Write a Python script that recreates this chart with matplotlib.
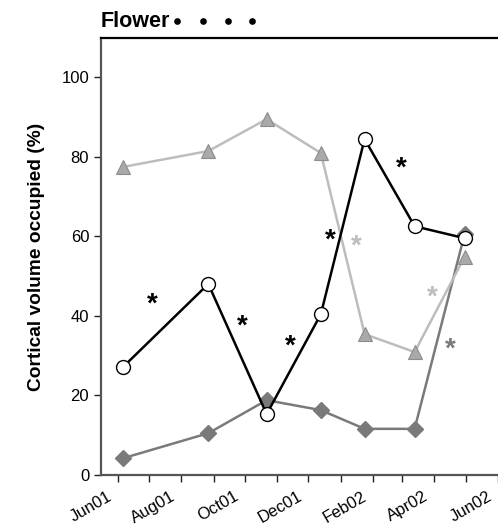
import datetime as dt
import matplotlib
matplotlib.use("Agg")
import matplotlib.pyplot as plt
import matplotlib.dates as mdates
import matplotlib.transforms as mtransforms

plt.rcParams['font.family'] = ['Liberation Sans', 'DejaVu Sans']

# Sampling dates
sample_dates = ["2001-06-06", "2001-08-27", "2001-10-22", "2001-12-13",
                "2002-01-24", "2002-03-13", "2002-04-30"]

# Cortical volume occupied (%) per series
circle_vals = [27.1, 48.0, 15.3, 40.4, 84.4, 62.5, 59.5]
triangle_vals = [77.4, 81.4, 89.4, 80.9, 35.4, 30.9, 54.8]
diamond_vals = [4.2, 10.5, 18.8, 16.3, 11.6, 11.6, 60.5]

# Significance markers: (date, value, colour-group)
star_dates = ["2001-07-04", "2001-09-29", "2001-11-14", "2001-12-22",
              "2002-02-28", "2002-01-16", "2002-03-30", "2002-04-16"]
star_vals = [42.7, 37.2, 32.2, 59.0, 76.9, 57.5, 44.5, 31.4]
star_groups = ["circle", "circle", "circle", "circle", "circle",
               "triangle", "triangle", "diamond"]

# Flowering period markers
flower_dates = ["2001-07-28", "2001-08-22", "2001-09-15", "2001-10-08"]

tick_labels = ["Jun01", "Aug01", "Oct01", "Dec01", "Feb02", "Apr02", "Jun02"]

to_dt = lambda s: dt.datetime.strptime(s, "%Y-%m-%d")
x = [to_dt(s) for s in sample_dates]

fig = plt.figure(figsize=(4.98, 5.26), dpi=100)
ax = fig.add_axes([101 / 498, 51 / 526, 1 - 101 / 498 + 0.002, 437 / 526])

col_circle = "black"
col_tri_line = "#bdbdbd"
col_tri_face = "#aaaaaa"
col_tri_edge = "#8c8c8c"
col_dia = "#7a7a7a"

ax.plot(x, diamond_vals, color=col_dia, lw=1.8, marker="D", ms=8,
        mfc=col_dia, mec=col_dia, zorder=2)
ax.plot(x, triangle_vals, color=col_tri_line, lw=1.8, marker="^", ms=10,
        mfc=col_tri_face, mec=col_tri_edge, mew=0.8, zorder=3)
ax.plot(x, circle_vals, color=col_circle, lw=1.8, marker="o", ms=10,
        mfc="white", mec="black", mew=1.0, zorder=4)

star_colors = {"circle": "black", "triangle": "#bdbdbd", "diamond": "#7a7a7a"}
for d, v, g in zip(star_dates, star_vals, star_groups):
    ax.text(to_dt(d), v, "*", color=star_colors[g], fontsize=20,
            fontweight="bold", ha="center", va="center", zorder=5)

# Axis ranges and ticks
ax.set_xlim(to_dt("2001-05-16"), to_dt("2002-06-02"))
ax.set_ylim(0, 109.8)
ax.set_yticks([0, 20, 40, 60, 80, 100])
ax.xaxis.set_major_locator(mdates.MonthLocator(bymonth=[6, 8, 10, 12, 2, 4]))
ax.xaxis.set_minor_locator(mdates.MonthLocator())
ax.set_xticks(ax.get_xticks())
ax.set_xticklabels(tick_labels, rotation=30, ha="right",
                   rotation_mode="anchor")
ax.tick_params(axis="both", which="both", direction="out", length=5,
               width=1, color="#222222", labelsize=12)
ax.tick_params(axis="x", which="both", pad=5)
shift = mtransforms.ScaledTranslation(-0.11, 0.0, fig.dpi_scale_trans)
for lab in ax.get_xticklabels():
    lab.set_transform(lab.get_transform() + shift)

for side in ["left", "bottom"]:
    ax.spines[side].set_color("#555555")
    ax.spines[side].set_linewidth(1.6)
ax.spines["top"].set_color("black")
ax.spines["top"].set_linewidth(1.6)
ax.spines["right"].set_visible(False)

ax.set_ylabel("Cortical volume occupied (%)", fontsize=13.8,
              fontweight="bold", labelpad=12)

# Flowering label above the plot
trans = mtransforms.blended_transform_factory(ax.transData, ax.transAxes)
ax.text(0.0, 1.038, "Flower", transform=ax.transAxes, fontsize=15.5,
        fontweight="bold", ha="left", va="center")
ax.plot([to_dt(d) for d in flower_dates], [1.038] * len(flower_dates),
        linestyle="none", marker="o", ms=3.8, color="black",
        transform=trans, clip_on=False)

fig.savefig("out.png", dpi=100)
